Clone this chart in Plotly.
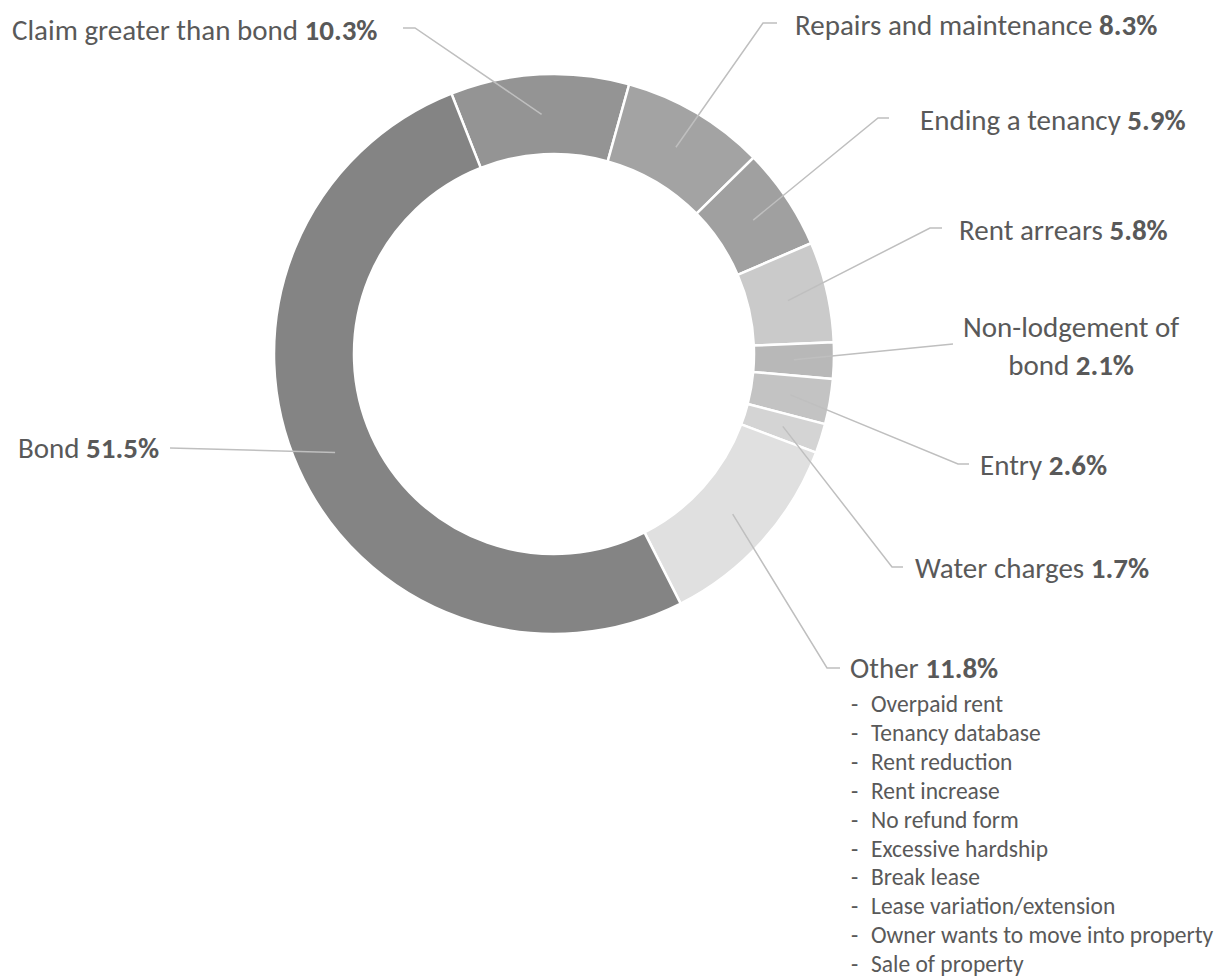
import math
import plotly.graph_objects as go

# ---------------- data ----------------
categories = ["Claim greater than bond", "Repairs and maintenance", "Ending a tenancy",
              "Rent arrears", "Non-lodgement of bond", "Entry", "Water charges",
              "Other", "Bond"]
shares = [10.3, 8.3, 5.9, 5.8, 2.1, 2.6, 1.7, 11.8, 51.5]
other_items = ["Overpaid rent", "Tenancy database", "Rent reduction", "Rent increase",
               "No refund form", "Excessive hardship", "Break lease",
               "Lease variation/extension", "Owner wants to move into property",
               "Sale of property"]

# ---------------- style / layout ----------------
colors = ["#949494", "#a3a3a3", "#a0a0a0", "#cacaca", "#b8b8b8", "#c3c3c3",
          "#d4d4d4", "#e0e0e0", "#848484"]
W, H = 1220, 979
CX, CY, R_OUT, R_IN = 554, 354, 280, 200
ROT = -21.5
R_ANCHOR = 240
FONT = "Carlito, Calibri, Lato, sans-serif"
TXT = "#595959"
LEAD = "#bfbfbf"
LBL_SIZE = 29
LIST_SIZE = 23.5

# text position (x, y, xanchor) and leader-line hook points near the label
label_pos = {
    "Claim greater than bond": (380, 30, "right", [(403, 28), (415, 28)]),
    "Repairs and maintenance": (793, 25, "left", [(777, 23), (763, 23)]),
    "Ending a tenancy": (918, 120, "left", [(889, 118), (878, 118)]),
    "Rent arrears": (957, 230, "left", [(942, 228), (930, 228)]),
    "Non-lodgement of bond": (1071, 346, "center", [(953, 344)]),
    "Entry": (978, 465, "left", [(969, 464), (958, 464)]),
    "Water charges": (913, 568, "left", [(903, 567), (892, 567)]),
    "Other": (848, 668, "left", [(840, 668), (827, 668)]),
    "Bond": (161, 448, "right", [(170, 448)]),
}
label_break = {"Non-lodgement of bond": "Non-lodgement of<br>bond"}

fig = go.Figure()
fig.add_trace(go.Pie(
    labels=categories, values=shares, sort=False, direction="clockwise",
    rotation=ROT, hole=R_IN / R_OUT, textinfo="none", hoverinfo="label+percent",
    marker=dict(colors=colors, line=dict(color="white", width=2.5)),
    domain=dict(x=[(CX - R_OUT) / W, (CX + R_OUT) / W],
                y=[1 - (CY + R_OUT) / H, 1 - (CY - R_OUT) / H]),
    showlegend=False,
))

total = sum(shares)
cum = 0.0
shapes = []
annotations = []
for cat, v in zip(categories, shares):
    mid = cum + v / 2
    cum += v
    ang = math.radians(ROT + 360 * mid / total)
    ax = CX + R_ANCHOR * math.sin(ang)
    ay = CY - R_ANCHOR * math.cos(ang)
    tx, ty, xa, hook = label_pos[cat]
    pts = hook + [(ax, ay)]
    path = "M " + " L ".join(f"{px:.1f},{py:.1f}" for px, py in pts)
    shapes.append(dict(type="path", path=path, xref="x", yref="y", layer="above",
                       line=dict(color=LEAD, width=1.5)))
    name = label_break.get(cat, cat)
    annotations.append(dict(x=tx, y=ty, xref="x", yref="y", xanchor=xa, yanchor="middle",
                            text=f"{name} <b>{v}%</b>", showarrow=False,
                            align="center" if xa == "center" else xa,
                            font=dict(family=FONT, size=LBL_SIZE, color=TXT)))

list_y0, list_dy = 704, 28.9
for i, item in enumerate(other_items):
    y = list_y0 + i * list_dy
    annotations.append(dict(x=849, y=y, xref="x", yref="y", xanchor="left", yanchor="middle",
                            text="-", showarrow=False,
                            font=dict(family=FONT, size=LIST_SIZE, color=TXT)))
    annotations.append(dict(x=869, y=y, xref="x", yref="y", xanchor="left", yanchor="middle",
                            text=item, showarrow=False,
                            font=dict(family=FONT, size=LIST_SIZE, color=TXT)))

fig.update_layout(
    width=W, height=H, margin=dict(l=0, r=0, t=0, b=0),
    paper_bgcolor="white", plot_bgcolor="rgba(0,0,0,0)",
    xaxis=dict(range=[0, W], visible=False, fixedrange=True, domain=[0, 1]),
    yaxis=dict(range=[H, 0], visible=False, fixedrange=True, domain=[0, 1]),
    shapes=shapes, annotations=annotations,
)
fig.write_html("out.html")
